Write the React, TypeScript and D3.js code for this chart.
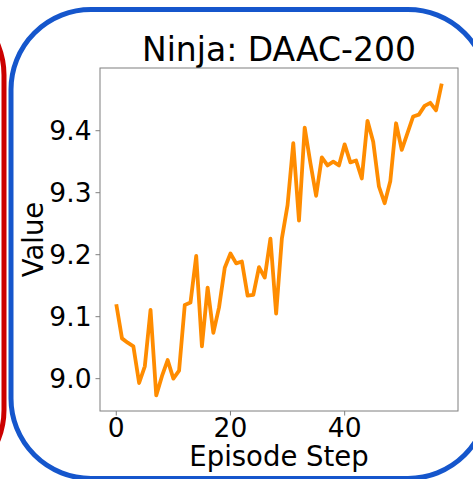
import React from "react";
import * as d3 from "d3";

const WIDTH = 473;
const HEIGHT = 479;

const TITLE = "Ninja: DAAC-200";
const X_LABEL = "Episode Step";
const Y_LABEL = "Value";

// Value per episode step (steps 0..57)
const values: number[] = [
  9.12, 9.065, 9.058, 9.052, 8.993, 9.02, 9.111, 8.973, 9.004, 9.03,
  9.0, 9.013, 9.119, 9.123, 9.198, 9.052, 9.147, 9.074, 9.115, 9.179,
  9.202, 9.186, 9.189, 9.134, 9.135, 9.18, 9.163, 9.226, 9.105, 9.226,
  9.28, 9.38, 9.255, 9.405, 9.348, 9.295, 9.357, 9.344, 9.35, 9.344,
  9.378, 9.349, 9.352, 9.323, 9.416, 9.382, 9.31, 9.283, 9.319, 9.412,
  9.369, 9.396, 9.423, 9.426, 9.44, 9.445, 9.433, 9.476,
];
const steps: number[] = values.map((_, i) => i);

const xTicks: number[] = [0, 20, 40];
const yTicks: number[] = [9.0, 9.1, 9.2, 9.3, 9.4];

const FONT = "DejaVu Sans, sans-serif";

export default function App() {
  const plot = { left: 100, right: 458, top: 68, bottom: 411 };

  // 5% margins around the data range
  const xMin = d3.min(steps)!;
  const xMax = d3.max(steps)!;
  const yMin = d3.min(values)!;
  const yMax = d3.max(values)!;
  const xPad = (xMax - xMin) * 0.05;
  const yPad = (yMax - yMin) * 0.05;

  const x = d3
    .scaleLinear()
    .domain([xMin - xPad, xMax + xPad])
    .range([plot.left, plot.right]);
  const y = d3
    .scaleLinear()
    .domain([yMin - yPad, yMax + yPad])
    .range([plot.bottom, plot.top]);

  const line = d3
    .line<number>()
    .x((_, i) => x(steps[i]))
    .y((d) => y(d));

  const frameColor = "#7f7f7f";

  return (
    <svg
      width={WIDTH}
      height={HEIGHT}
      style={{ position: "absolute", left: 0, top: 0, background: "#fff" }}
      fontFamily={FONT}
    >
      {/* neighbouring panel border */}
      <rect
        x={-500}
        y={-5}
        width={504}
        height={495}
        rx={80}
        ry={80}
        fill="none"
        stroke="#cc0000"
        strokeWidth={5}
      />
      {/* panel border */}
      <rect
        x={11}
        y={9.5}
        width={477}
        height={469}
        rx={80}
        ry={80}
        fill="#fff"
        stroke="#1556cc"
        strokeWidth={5}
      />

      <text
        x={(plot.left + plot.right) / 2}
        y={61}
        textAnchor="middle"
        fontSize={33}
        fill="#000"
      >
        {TITLE}
      </text>

      {/* axes frame */}
      <rect
        x={plot.left}
        y={plot.top}
        width={plot.right - plot.left}
        height={plot.bottom - plot.top}
        fill="none"
        stroke={frameColor}
        strokeWidth={1}
      />

      {/* y ticks */}
      {yTicks.map((t) => (
        <g key={`y${t}`}>
          <line
            x1={plot.left - 4.5}
            x2={plot.left}
            y1={y(t)}
            y2={y(t)}
            stroke={frameColor}
            strokeWidth={1}
          />
          <text
            x={plot.left - 8.5}
            y={y(t)}
            dy="0.36em"
            textAnchor="end"
            fontSize={26.5}
            fill="#000"
          >
            {t.toFixed(1)}
          </text>
        </g>
      ))}

      {/* x ticks */}
      {xTicks.map((t) => (
        <g key={`x${t}`}>
          <line
            x1={x(t)}
            x2={x(t)}
            y1={plot.bottom}
            y2={plot.bottom + 4.5}
            stroke={frameColor}
            strokeWidth={1}
          />
          <text
            x={x(t)}
            y={437}
            textAnchor="middle"
            fontSize={26.5}
            fill="#000"
          >
            {t}
          </text>
        </g>
      ))}

      <text
        x={(plot.left + plot.right) / 2}
        y={465.5}
        textAnchor="middle"
        fontSize={27.5}
        fill="#000"
      >
        {X_LABEL}
      </text>
      <text
        transform={`translate(42.5, ${(plot.top + plot.bottom) / 2}) rotate(-90)`}
        textAnchor="middle"
        fontSize={27.5}
        fill="#000"
      >
        {Y_LABEL}
      </text>

      <path
        d={line(values) ?? ""}
        fill="none"
        stroke="#ff8c00"
        strokeWidth={3.8}
        strokeLinejoin="round"
        strokeLinecap="butt"
      />
    </svg>
  );
}
